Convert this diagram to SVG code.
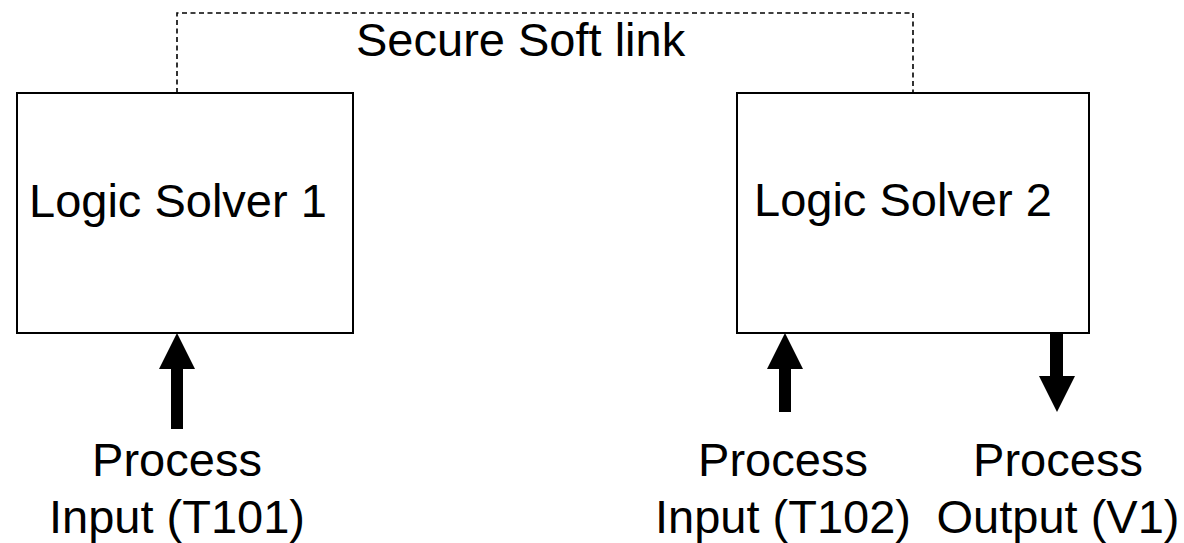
<svg xmlns="http://www.w3.org/2000/svg" width="1184" height="543" viewBox="0 0 1184 543">
<style>
.box{fill:#fff;stroke:#000;stroke-width:2}
.t{font-family:"Liberation Sans",Arial,sans-serif;font-size:47px;fill:#000}
.c{text-anchor:middle}
.dash{fill:none;stroke:#000;stroke-width:1.6;stroke-dasharray:5 3.5}
.arr{fill:#000;stroke:none}
</style>
<rect width="1184" height="543" fill="#fff"/>
<g id="connectors">
<path class="dash" d="M177,93 V13 H913 V93"/>
<text class="t" x="356" y="56">Secure Soft link</text>
<path class="arr" d="M171,429 V369 H159 L177,333 L195,369 H183 V429 Z"/>
<path class="arr" d="M779,412 V369 H767 L785,333 L803,369 H791 V412 Z"/>
<path class="arr" d="M1050,333 V376 H1039 L1057,412 L1075,376 H1063 V333 Z"/>
</g>
<g id="solver1">
<rect class="box" x="17" y="93" width="336" height="240"/>
<text class="t" x="29" y="217">Logic Solver 1</text>
</g>
<g id="solver2">
<rect class="box" x="737" y="93" width="352" height="240"/>
<text class="t" x="754" y="216">Logic Solver 2</text>
</g>
<g id="input1">
<text class="t c" x="177" y="476">Process</text>
<text class="t c" x="177" y="533">Input (T101)</text>
</g>
<g id="input2">
<text class="t c" x="783" y="476">Process</text>
<text class="t c" x="783" y="533">Input (T102)</text>
</g>
<g id="output1">
<text class="t c" x="1058" y="476">Process</text>
<text class="t c" x="1058" y="533">Output (V1)</text>
</g>
</svg>
